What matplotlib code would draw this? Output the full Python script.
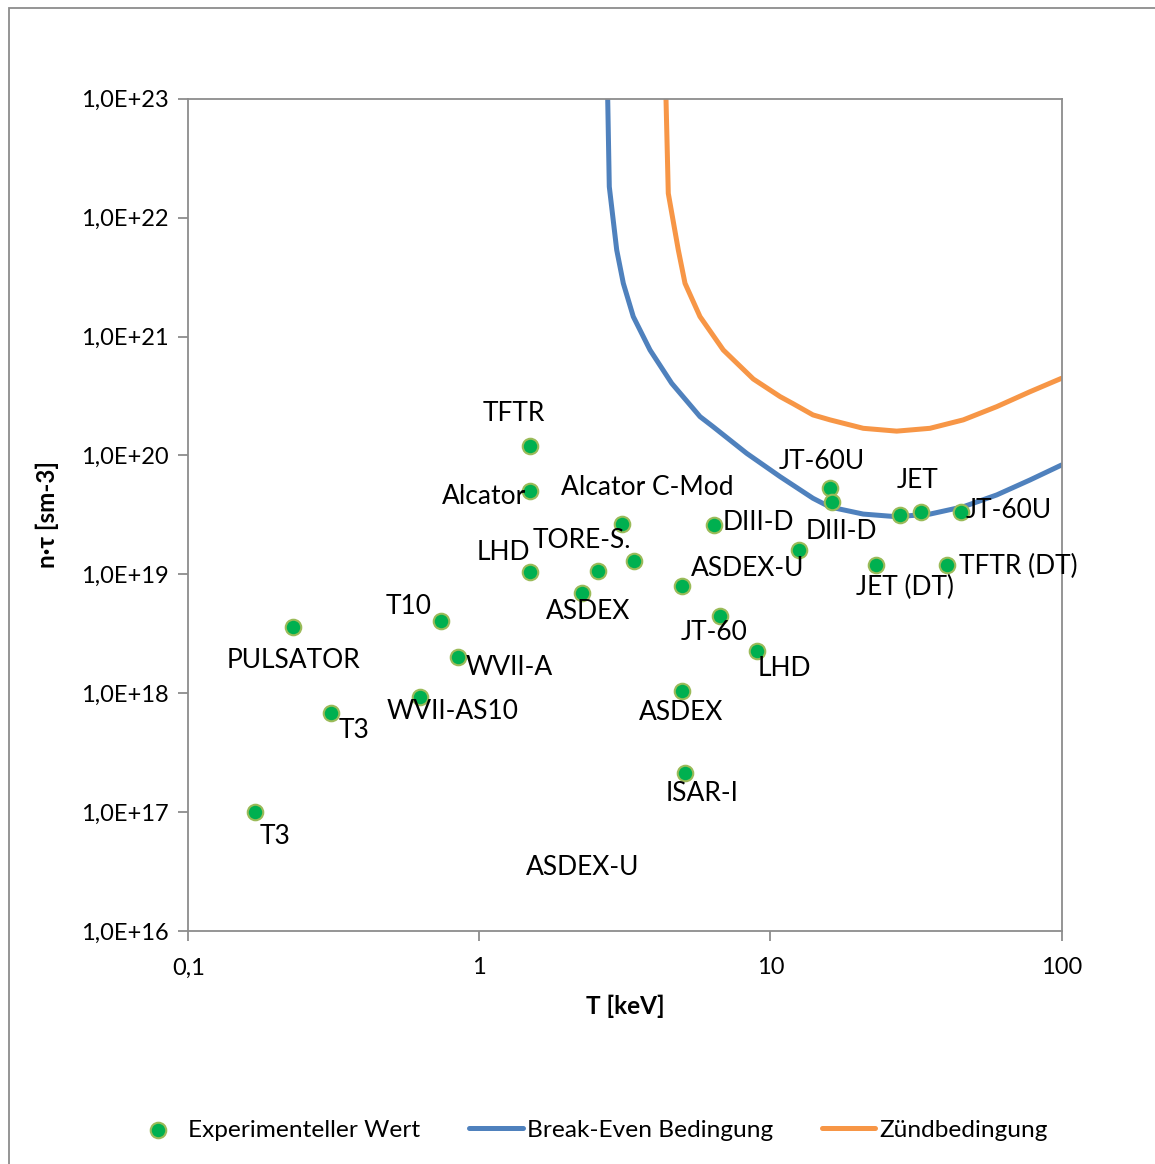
import matplotlib.pyplot as plt
from matplotlib.patches import Rectangle
from matplotlib.ticker import FixedLocator, NullLocator

plt.rcParams['font.family'] = ['Lato', 'DejaVu Sans']

# --- Messwerte (T in keV, n*tau) ---
exp_T = [1.49, 1.49, 3.09, 1.49, 2.56, 3.40, 2.25, 0.739, 0.229, 0.845, 0.626,
         0.310, 0.170, 4.97, 6.40, 6.70, 8.98, 4.97, 5.08, 12.5, 16.0, 16.3,
         23.0, 27.8, 32.8, 40.3, 45.0]
exp_nt = [1.19e20, 4.98e19, 2.63e19, 1.04e19, 1.06e19, 1.29e19, 6.92e18, 4.03e18,
          3.59e18, 2.01e18, 9.25e17, 6.79e17, 1.0e17, 7.93e18, 2.58e19, 4.43e18,
          2.25e18, 1.04e18, 2.13e17, 1.59e19, 5.28e19, 4.03e19, 1.19e19, 3.13e19,
          3.32e19, 1.19e19, 3.32e19]

# --- Beschriftungen ---
label_text = ['TFTR', 'Alcator', 'Alcator C-Mod', 'LHD', 'TORE-S.', 'ASDEX', 'T10',
              'PULSATOR', 'WVII-A', 'WVII-AS10', 'T3', 'T3', 'ASDEX-U', 'DIII-D',
              'ASDEX-U', 'JT-60', 'LHD', 'ASDEX', 'ISAR-I', 'JT-60U', 'JET',
              'JT-60U', 'DIII-D', 'JET (DT)', 'TFTR (DT)']
label_T = [1.315, 1.037, 3.77, 1.206, 2.253, 2.36, 0.573, 0.229, 1.264, 0.812,
           0.371, 0.1986, 2.27, 9.06, 8.37, 6.40, 11.2, 4.93, 5.82, 15.0, 32.1,
           66.0, 17.5, 29.0, 70.9]
label_nt = [2.27e20, 4.47e19, 5.32e19, 1.54e19, 1.94e19, 4.82e18, 5.41e18, 1.87e18,
            1.63e18, 6.95e17, 4.81e17, 6.18e16, 3.39e16, 2.75e19, 1.11e19, 3.27e18,
            1.60e18, 6.82e17, 1.42e17, 8.97e19, 6.21e19, 3.41e19, 2.27e19, 7.82e18,
            1.17e19]

# --- Break-Even Bedingung ---
be_T = [2.76, 2.795, 2.964, 3.123, 3.379, 3.857, 4.579, 5.728, 6.36, 8.29, 10.8,
        14.0, 16.02, 20.84, 27.15, 35.33, 45.99, 59.9, 77.9, 100]
be_nt = [1e23, 1.82e22, 5.34e21, 2.80e21, 1.47e21, 7.70e20, 4.04e20, 2.12e20,
         1.74e20, 1.04e20, 6.62e19, 4.36e19, 3.68e19, 3.21e19, 3.05e19, 3.21e19,
         3.70e19, 4.65e19, 6.21e19, 8.3e19]

# --- Zuendbedingung ---
ig_T = [4.377, 4.457, 4.825, 5.088, 5.728, 6.887, 8.733, 10.8, 12.0, 14.0, 16.02,
        20.84, 27.15, 35.33, 45.99, 59.9, 77.9, 100]
ig_nt = [1e23, 1.60e22, 5.34e21, 2.80e21, 1.47e21, 7.70e20, 4.39e20, 3.12e20,
         2.71e20, 2.19e20, 1.99e20, 1.69e20, 1.60e20, 1.69e20, 1.99e20, 2.57e20,
         3.43e20, 4.45e20]

x_ticks = [0.1, 1, 10, 100]
x_ticklabels = ['0,1', '1', '10', '100']
y_ticks = [1e16, 1e17, 1e18, 1e19, 1e20, 1e21, 1e22, 1e23]
y_ticklabels = ['1,0E+16', '1,0E+17', '1,0E+18', '1,0E+19', '1,0E+20',
                '1,0E+21', '1,0E+22', '1,0E+23']

fig = plt.figure(figsize=(11.55, 11.64), dpi=100)
ax = fig.add_axes([188.3/1155, 1 - 931/1164, (1061.5-188.3)/1155, (931-98.7)/1164])

# Rahmen um das Diagramm
fig.patches.append(Rectangle((9/1155, -0.05), 1.2, 1 - 8/1164 + 0.05,
                             transform=fig.transFigure, fill=False,
                             edgecolor='#8c8c8c', linewidth=1.3))

ax.plot(be_T, be_nt, color='#4f81bd', linewidth=3.6, label='Break-Even Bedingung',
        solid_capstyle='round', solid_joinstyle='round', zorder=2)
ax.plot(ig_T, ig_nt, color='#f79646', linewidth=3.6, label='Zündbedingung',
        solid_capstyle='round', solid_joinstyle='round', zorder=2)
ax.scatter(exp_T, exp_nt, s=125, color='#00b050', edgecolors='#9bbb59',
           linewidths=1.5, label='Experimenteller Wert', zorder=3)

for t, x, y in zip(label_text, label_T, label_nt):
    ax.text(x, y, t, fontsize=19, ha='center', va='center', color='black', zorder=4)

ax.set_xscale('log')
ax.set_yscale('log')
ax.set_xlim(0.1, 100)
ax.set_ylim(1e16, 1e23)
ax.xaxis.set_major_locator(FixedLocator(x_ticks))
ax.xaxis.set_minor_locator(NullLocator())
ax.yaxis.set_major_locator(FixedLocator(y_ticks))
ax.yaxis.set_minor_locator(NullLocator())
ax.set_xticklabels(x_ticklabels)
ax.set_yticklabels(y_ticklabels)
ax.tick_params(axis='both', direction='out', length=7, width=1.3, color='#8c8c8c',
               labelsize=17)
ax.tick_params(axis='x', pad=12)
ax.tick_params(axis='y', pad=7)
for sp in ax.spines.values():
    sp.set_color('#8c8c8c')
    sp.set_linewidth(1.3)

ax.set_xlabel('T [keV]', fontsize=17.5, fontweight='bold', labelpad=12)
ax.set_ylabel('n·τ [sm-3]', fontsize=17.5, fontweight='bold', labelpad=16)

h, l = ax.get_legend_handles_labels()
order = [2, 0, 1]
fig.legend([h[i] for i in order], [l[i] for i in order], loc='center',
           bbox_to_anchor=(0.510, 1 - 1130/1164), ncol=3, frameon=False,
           fontsize=17.6, handlelength=2.2, columnspacing=2.0, handletextpad=0.15)

plt.savefig('out.png', dpi=100)
